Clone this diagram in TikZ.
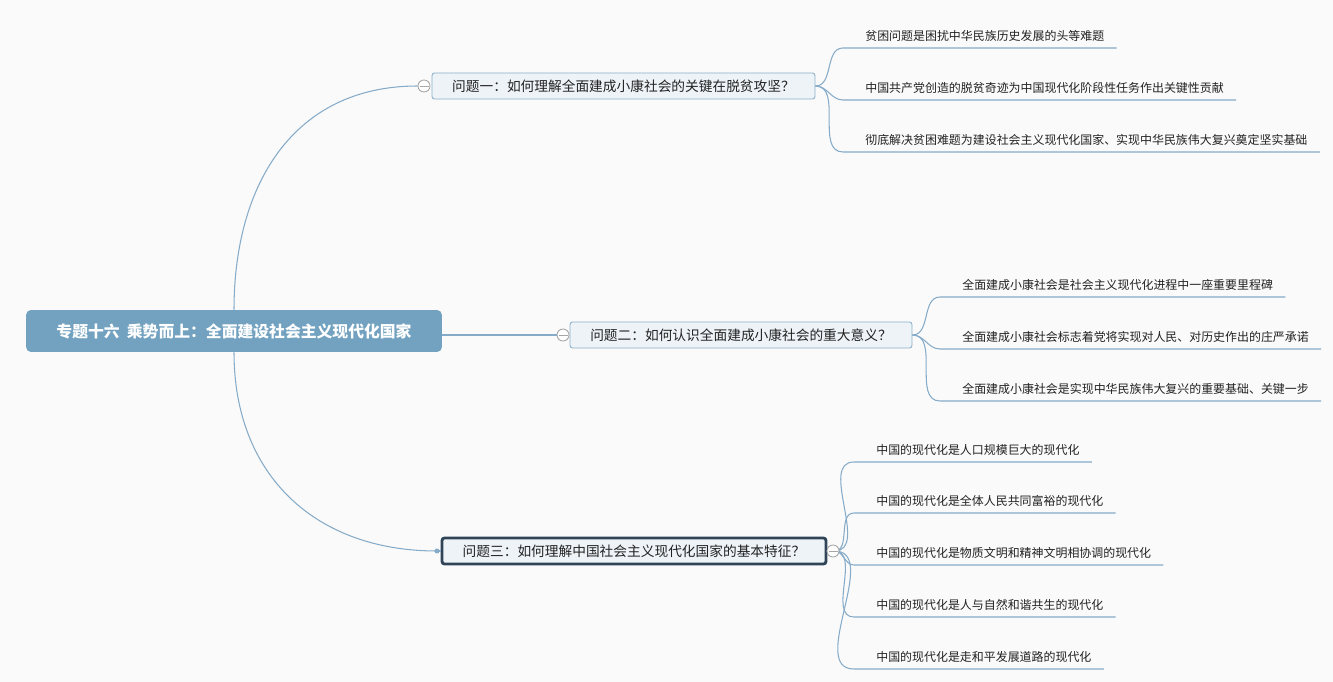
\documentclass[tikz,border=0pt]{standalone}
\usepackage{fontspec}
\setmainfont{Noto Sans CJK SC}
\definecolor{mapline}{HTML}{86ABC8}
\definecolor{rootblue}{HTML}{73A2C0}
\definecolor{boxfill}{HTML}{EEF3F8}
\definecolor{boxline}{HTML}{8AAFCB}
\definecolor{boxdark}{HTML}{2F4456}
\definecolor{mapink}{HTML}{222222}
\definecolor{pagebg}{HTML}{FAFAFA}
\begin{document}
\begin{tikzpicture}[
          x=0.02cm, y=-0.02cm,
          every node/.style={align=center, text=mapink},
          topic/.style={fill=rootblue, rounded corners=0.1cm, text=white, font=\fontsize{9pt}{11pt}\selectfont\bfseries, minimum width=8.32cm, minimum height=0.84cm},
          question/.style={draw=boxline, fill=boxfill, rounded corners=0.05cm, line width=0.5pt, font=\fontsize{7.8pt}{9pt}\selectfont, minimum height=0.52cm},
          current/.style={question, draw=boxdark, line width=1.6pt},
          fold/.style={circle, draw=gray!70, fill=white, inner sep=0pt, minimum size=0.24cm, line width=0.5pt,
            path picture={\draw[gray!70, line width=0.5pt] ([xshift=-0.09cm]path picture bounding box.center) -- ([xshift=0.09cm]path picture bounding box.center);}},
          dot/.style={circle, fill=mapline, inner sep=0pt, minimum size=0.1cm},
          leaf/.style={anchor=south west, inner xsep=0pt, inner ysep=0.09cm, text depth=0.06cm, font=\fontsize{6.8pt}{8pt}\selectfont,
            execute at begin node=\hspace*{0.44cm}, execute at end node=\hspace*{0.24cm}},
          link/.style={draw=mapline, line width=0.6pt}
        ]
        \path[fill=pagebg, use as bounding box] (0,0) rectangle (1333,682);

        % Central topic
        \node[topic] (root) at (234,331) {专题十六\ \ 乘势而上：全面建设社会主义现代化国家};

        % Questions
        \node[question, minimum width=7.66cm] (qa) at (623.5,86) {问题一：如何理解全面建成小康社会的关键在脱贫攻坚？};
        \node[fold] (fa) at (424,86) {};
        \node[question, minimum width=6.84cm] (qb) at (741,335) {问题二：如何认识全面建成小康社会的重大意义？};
        \node[fold] (fb) at (563,335) {};
        \node[current, minimum width=7.68cm] (qc) at (634,551) {问题三：如何理解中国社会主义现代化国家的基本特征？};
        \node[dot] (dc) at (437,551) {};

        % Leaves of question one
        \node[leaf] (a1) at (843,48) {贫困问题是困扰中华民族历史发展的头等难题};
        \node[leaf] (a2) at (843,100) {中国共产党创造的脱贫奇迹为中国现代化阶段性任务作出关键性贡献};
        \node[leaf] (a3) at (843,152) {彻底解决贫困难题为建设社会主义现代化国家、实现中华民族伟大复兴奠定坚实基础};

        % Leaves of question two
        \node[leaf] (b1) at (940,297) {全面建成小康社会是社会主义现代化进程中一座重要里程碑};
        \node[leaf] (b2) at (940,349) {全面建成小康社会标志着党将实现对人民、对历史作出的庄严承诺};
        \node[leaf] (b3) at (940,401) {全面建成小康社会是实现中华民族伟大复兴的重要基础、关键一步};

        % Leaves of question three
        \node[leaf] (c1) at (854,462) {中国的现代化是人口规模巨大的现代化};
        \node[leaf] (c2) at (854,513) {中国的现代化是全体人民共同富裕的现代化};
        \node[leaf] (c3) at (854,565) {中国的现代化是物质文明和精神文明相协调的现代化};
        \node[leaf] (c4) at (854,617) {中国的现代化是人与自然和谐共生的现代化};
        \node[leaf] (c5) at (854,669) {中国的现代化是走和平发展道路的现代化};

        % Branches
        \draw[link] (root.north) to[out=90, in=180, looseness=1.1] (fa.west);
        \draw[link] (root.east |- fb.west) -- (fb.west);
        \draw[link] (root.south) to[out=-90, in=180, looseness=1.1] (dc.center);
        \draw[link] (dc.center) -- (qc.west);

        \foreach \leafname in {a1,a2,a3}
          \draw[link] (qa.east) to[out=0, in=180] (\leafname.south west) -- (\leafname.south east);
        \foreach \leafname in {b1,b2,b3}
          \draw[link] (qb.east) to[out=0, in=180] (\leafname.south west) -- (\leafname.south east);
        \foreach \leafname in {c1,c2,c3,c4,c5}
          \draw[link] (qc.east) ++(0.14cm,0) to[out=0, in=180] (\leafname.south west) -- (\leafname.south east);
        \node[fold] (fc) at (833,551) {};

      \end{tikzpicture}
\end{document}
